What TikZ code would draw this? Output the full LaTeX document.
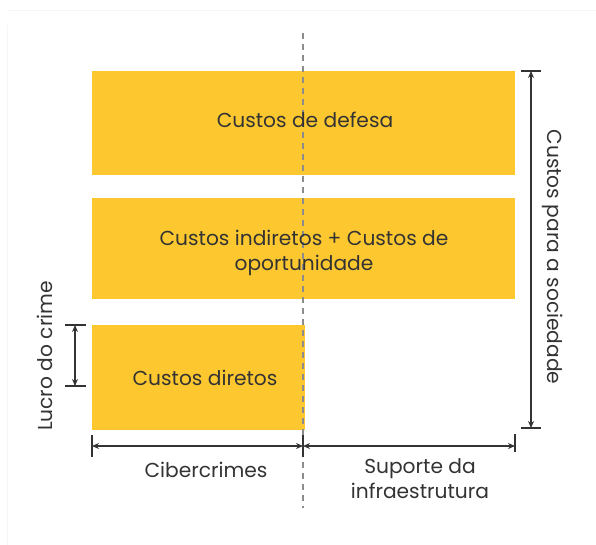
\documentclass[tikz,border=0pt]{standalone}
\usepackage{fontspec}
\setmainfont{Poppins}
\usetikzlibrary{arrows.meta}
\definecolor{boxyellow}{HTML}{FDC82F}
\definecolor{txt}{HTML}{333333}
\begin{document}
\begin{tikzpicture}[x=1pt,y=-1pt,
  lbl/.style={text=txt, font=\fontsize{20.2}{25}\selectfont, align=center, inner sep=0pt},
  dim/.style={draw=txt, line width=1.1pt, {Stealth[length=7pt,width=6pt]}-{Stealth[length=7pt,width=6pt]}},
  tick/.style={draw=txt, line width=1.1pt}]
\useasboundingbox (0,0) rectangle (596,544);
\draw[black!4, line width=1pt] (7,10) -- (600,10);
\draw[black!4, line width=1pt] (7,25) -- (7,550);
% boxes
\fill[boxyellow] (92,71) rectangle (515,175);
\fill[boxyellow] (92,198) rectangle (515,299);
\fill[boxyellow] (92,325) rectangle (305,430);
% dashed divider
\coordinate (dtop) at (303,33);
\coordinate (dbot) at (303,508);
\draw[black!45, line width=1.2pt, dash pattern=on 6pt off 5pt] (dtop) -- (dbot);
% labels in boxes
\node[lbl] (defesa) at (305,120) {Custos de defesa};
\node[lbl] (indiretos) at (304,253) {Custos indiretos + Custos de\\oportunidade};
\node[lbl] (diretos) at (205,378) {Custos diretos};
% bottom dimension
\coordinate (b1) at (92,446);
\coordinate (b2) at (303,446);
\coordinate (b3) at (515,446);
\draw[tick] (92,435) -- (92,457);
\draw[tick] (303,435) -- (303,457);
\draw[tick] (515,434) -- (515,452);
\draw[dim] (b1) -- (b2);
\draw[dim] (b2) -- (b3);
\node[lbl] (ciber) at (206,470) {Cibercrimes};
\node[lbl] (suporte) at (420,479) {Suporte da\\infraestrutura};
% right dimension
\coordinate (r1) at (531,71);
\coordinate (r2) at (531,428);
\draw[tick] (521,71) -- (541,71);
\draw[tick] (521,428) -- (541,428);
\draw[dim] (r1) -- (r2);
\node[lbl, rotate=-90] (soc) at (553,257) {Custos para a sociedade};
% left dimension
\coordinate (l1) at (75,325);
\coordinate (l2) at (75,386);
\draw[tick] (65,325) -- (86,325);
\draw[tick] (65,386) -- (86,386);
\draw[dim] (l1) -- (l2);
\node[lbl, rotate=90] (lucro) at (45,356) {Lucro do crime};
\end{tikzpicture}
\end{document}
